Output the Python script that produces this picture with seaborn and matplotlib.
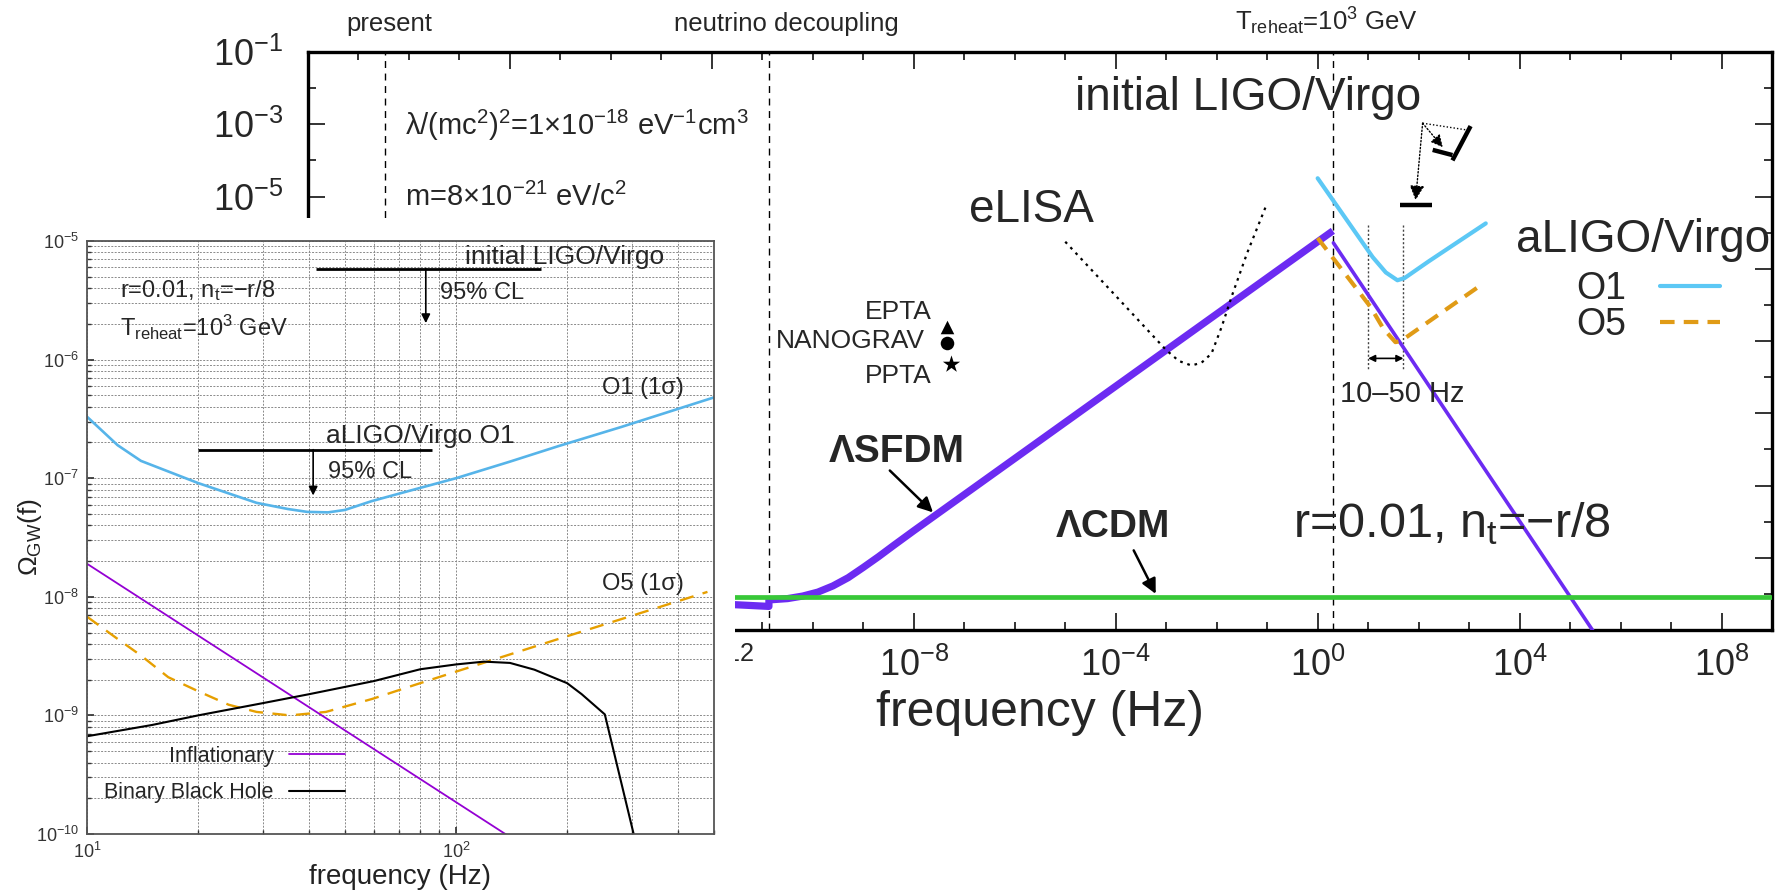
import matplotlib
matplotlib.use("Agg")
import matplotlib.pyplot as plt
import seaborn as sns
from matplotlib.ticker import FixedLocator, FixedFormatter, NullFormatter, LogLocator
from matplotlib.patches import Rectangle

# ---------------- main (background) panel data ----------------
sfdm_f = [1e-12, 1.35e-11, 1.35e-11, 3.16e-11, 6.3e-11, 1.26e-10, 2.5e-10, 5.0e-10, 1e-9,
          2.0e-9, 4.0e-9, 1e-8, 1e-6, 1e-4, 1e-2, 1.0, 2.0]
sfdm_omega = [5.4e-17, 4.5e-17, 6.8e-17, 7.4e-17, 8.7e-17, 1.12e-16, 1.66e-16, 2.8e-16, 5.4e-16,
              1.07e-15, 2.2e-15, 5.6e-15, 5.6e-13, 5.6e-11, 5.6e-9, 5.6e-7, 1.12e-6]
sfdm_post_f = [2.05, 3.2e5]
sfdm_post_omega = [5.2e-7, 7.4e-18]
lcdm_f = [1e-20, 1e9]
lcdm_omega = [8.0e-17, 8.0e-17]
o1_big_f = [1.0, 12.3, 22.4, 38.0, 52.5, 158, 631, 2138]
o1_big_omega = [3.2e-5, 2.1e-7, 7.9e-8, 4.8e-8, 5.5e-8, 1.6e-7, 5.8e-7, 1.8e-6]
o5_big_f = [1.0, 11.2, 20, 34.7, 44.7, 251, 1700]
o5_big_omega = [7.1e-7, 8.7e-9, 2.2e-9, 9.3e-10, 1.0e-9, 5.4e-9, 3.5e-8]
elisa_f = [1e-5, 3.16e-5, 1e-4, 3.16e-4, 1e-3, 1.78e-3, 3.16e-3, 5.0e-3, 7.9e-3, 1.26e-2, 2.0e-2, 4.0e-2, 9.3e-2]
elisa_omega = [5.6e-7, 1e-7, 1.78e-8, 3.16e-9, 5.6e-10, 2.8e-10, 2.1e-10, 2.5e-10, 4.5e-10, 2.5e-9, 1.78e-8, 2.7e-7, 5.1e-6]
pta_names = ["EPTA", "NANOGRAV", "PPTA"]
pta_f = [4.6e-8, 4.5e-8, 5.5e-8]
pta_omega = [2.4e-9, 8.7e-10, 2.3e-10]
pta_markers = ["^", "o", "*"]
pta_text_f = [2.3e-8, 1.65e-8, 2.3e-8]
pta_text_omega = [6.3e-9, 1.0e-9, 1.06e-10]
event_names = ["present", "neutrino decoupling", "T$_{\\rm reheat}$=10$^3$ GeV"]
event_f = [3.4e-19, 1.35e-11, 2.0]
event_label_f = [4.0e-19, 3.0e-11, 1.5]
band_f = [10, 50]
band_omega = [1.6e-6, 1.55e-10]
band_arrow_omega = 3.3e-10
ilv_big_bar_f = [43.6, 182]
ilv_big_bar_omega = [5.8e-6, 5.8e-6]
big_xticks = [1e-20, 1e-16, 1e-12, 1e-8, 1e-4, 1e0, 1e4, 1e8]
big_xticklabels = ["", "", "$\\mathdefault{10^{-12}}$", "$\\mathdefault{10^{-8}}$",
                   "$\\mathdefault{10^{-4}}$", "$\\mathdefault{10^{0}}$",
                   "$\\mathdefault{10^{4}}$", "$\\mathdefault{10^{8}}$"]
big_xminor = [10.0 ** k for k in range(-20, 10)]
big_yticks = [1e-17, 1e-15, 1e-13, 1e-11, 1e-9, 1e-7, 1e-5, 1e-3, 1e-1]
big_yticklabels = ["", "", "", "", "", "", "$\\mathdefault{10^{-5}}$",
                   "$\\mathdefault{10^{-3}}$", "$\\mathdefault{10^{-1}}$"]
big_yminor = [1e-16, 1e-14, 1e-12, 1e-10, 1e-8, 1e-6, 1e-4, 1e-2]

# ---------------- inset panel data ----------------
inset_f_o1 = [10, 12.1, 14, 20, 28.8, 35, 39.5, 45, 50, 59, 75, 100, 140, 189, 280, 500]
inset_o1 = [3.3e-7, 1.9e-7, 1.4e-7, 9.1e-8, 6.2e-8, 5.5e-8, 5.2e-8, 5.15e-8, 5.4e-8, 6.4e-8,
            7.85e-8, 1.0e-7, 1.38e-7, 1.86e-7, 2.7e-7, 4.8e-7]
inset_f_o5 = [10, 12, 14, 16.6, 20, 24.2, 28.8, 35.5, 44.4, 59.4, 77, 100, 189, 480]
inset_o5 = [6.8e-9, 4.5e-9, 3.2e-9, 2.1e-9, 1.6e-9, 1.23e-9, 1.07e-9, 1.0e-9, 1.07e-9, 1.38e-9,
            1.8e-9, 2.34e-9, 4.4e-9, 1.1e-8]
inset_f_infl = [10, 500]
inset_infl = [1.9e-8, 7.3e-12]
inset_f_bbh = [10, 15, 20, 30, 40, 60, 80, 100, 119, 140, 163, 200, 219, 253, 310]
inset_bbh = [6.67e-10, 8.3e-10, 1.0e-9, 1.27e-9, 1.51e-9, 1.95e-9, 2.45e-9, 2.69e-9, 2.84e-9,
             2.77e-9, 2.43e-9, 1.87e-9, 1.51e-9, 1.02e-9, 7.4e-11]
ilv_f = [41.7, 170]
ilv_omega = [5.86e-6, 5.86e-6]
ilv_arrow_f = 82.8
ilv_arrow_to = 2.03e-6
o1lim_f = [20.0, 86.1]
o1lim_omega = [1.74e-7, 1.74e-7]
o1lim_arrow_f = 41.0
o1lim_arrow_to = 7.15e-8

# ---------------- style ----------------
sns.set_theme(style="ticks")
plt.rcParams.update({
    "font.family": ["Liberation Sans", "DejaVu Sans"],
    "mathtext.fontset": "custom",
    "mathtext.rm": "Liberation Sans",
    "mathtext.it": "Liberation Sans:italic",
    "mathtext.bf": "Liberation Sans:bold",
    "mathtext.sf": "Liberation Sans",
    "mathtext.default": "regular",
    "axes.unicode_minus": True,
})

W, H = 1781, 896
fig = plt.figure(figsize=(W / 100, H / 100), dpi=100)
fig.patch.set_facecolor("white")

# ================= main panel =================
ax = fig.add_axes([308 / W, 1 - 630 / H, (1772 - 308) / W, (630 - 52) / H])
ax.set_xscale("log")
ax.set_yscale("log")
ax.set_xlim(1e-20, 1e9)
ax.set_ylim(1e-17, 1e-1)
ax.set_facecolor("white")

C_SFDM = "#6c2bf2"
C_O1B = "#5cc8f5"
C_O5B = "#e09b16"
C_LCDM = "#38c838"

sns.lineplot(x=sfdm_f, y=sfdm_omega, ax=ax, color=C_SFDM, lw=5.2, estimator=None, sort=False,
             legend=False, solid_capstyle="butt", zorder=3)
sns.lineplot(x=sfdm_post_f, y=sfdm_post_omega, ax=ax, color=C_SFDM, lw=2.6, estimator=None,
             sort=False, legend=False, zorder=3)
sns.lineplot(x=lcdm_f, y=lcdm_omega, ax=ax, color=C_LCDM, lw=3.4, estimator=None, sort=False,
             legend=False, zorder=4)
sns.lineplot(x=o1_big_f, y=o1_big_omega, ax=ax, color=C_O1B, lw=3.0, estimator=None, sort=False,
             legend=False, zorder=3)
line_o1_big = ax.lines[-1]
sns.lineplot(x=o5_big_f, y=o5_big_omega, ax=ax, color=C_O5B, lw=3.0, estimator=None, sort=False,
             legend=False, linestyle=(0, (3.5, 2.2)), zorder=3)
line_o5_big = ax.lines[-1]
sns.lineplot(x=elisa_f, y=elisa_omega, ax=ax, color="black", lw=1.6, estimator=None, sort=False,
             legend=False, linestyle=(0, (1.2, 2.2)), zorder=3)

for fx, oy, mk in zip(pta_f, pta_omega, pta_markers):
    ax.scatter([fx], [oy], marker=mk, s=170 if mk == "*" else 95, color="black", zorder=5,
               linewidths=0)
for name, tf, to in zip(pta_names, pta_text_f, pta_text_omega):
    ax.text(tf, to, name, ha="right", va="center", fontsize=19)

for fx in event_f:
    ax.axvline(fx, color="black", lw=1.0, ls=(0, (5, 4)), zorder=2)
for name, lf in zip(event_names, event_label_f):
    ax.text(lf, 1.037, name, transform=ax.get_xaxis_transform(), ha="center", va="baseline",
            fontsize=18.5)

for fx in band_f:
    ax.plot([fx, fx], band_omega, color="#444444", lw=1.0, ls=(0, (1.5, 1.5)), zorder=2)
ax.annotate("", xy=(band_f[0], band_arrow_omega), xytext=(band_f[1], band_arrow_omega),
            arrowprops=dict(arrowstyle="<|-|>", lw=1.2, color="black", mutation_scale=10,
                            shrinkA=0, shrinkB=0))
ax.text(48, 3.5e-11, "10–50 Hz", ha="center", va="center", fontsize=21)

# initial LIGO/Virgo upper limit marker
ax.plot(ilv_big_bar_f, ilv_big_bar_omega, color="black", lw=3.2, solid_capstyle="butt", zorder=5)
ax.annotate("", xy=(87, 7.9e-6), xytext=(120, 1.07e-3),
            arrowprops=dict(arrowstyle="-|>", lw=1.0, ls=(0, (1, 1.5)), color="black",
                            mutation_scale=22, shrinkA=0, shrinkB=0))
ax.annotate("", xy=(302, 2.3e-4), xytext=(120, 1.07e-3),
            arrowprops=dict(arrowstyle="-|>", lw=1.0, ls=(0, (1, 1.5)), color="black",
                            mutation_scale=18, shrinkA=0, shrinkB=0))
ax.plot([120, 933], [1.07e-3, 6.9e-4], color="black", lw=1.0, ls=(0, (1, 1.5)))
ax.plot([1070, 468], [8.9e-4, 1.0e-4], color="black", lw=3.2, solid_capstyle="butt")
ax.plot([190, 468], [1.95e-4, 1.4e-4], color="black", lw=3.2, solid_capstyle="butt")

# texts of the main panel
ax.text(8.3e-19, 9.5e-4, "λ/(mc$^2$)$^2$=1×10$^{-18}$ eV$^{-1}$cm$^3$", ha="left", va="center",
        fontsize=21)
ax.text(8.3e-19, 9.5e-6, "m=8×10$^{-21}$ eV/c$^2$", ha="left", va="center", fontsize=21)
ax.text(0.041, 5.4e-3, "initial LIGO/Virgo", ha="center", va="center", fontsize=33)
ax.text(2.1e-6, 4.2e-6, "eLISA", ha="center", va="center", fontsize=33)
ax.text(8300, 6.2e-7, "aLIGO/Virgo", ha="left", va="center", fontsize=33)
ax.text(4.6e-9, 8.3e-13, "ΛSFDM", ha="center", va="center", fontsize=28, fontweight="bold")
ax.annotate("", xy=(2.4e-8, 1.8e-14), xytext=(3.35e-9, 2.6e-13),
            arrowprops=dict(arrowstyle="-|>", lw=1.8, color="black", mutation_scale=22,
                            shrinkA=0, shrinkB=0))
ax.text(8.7e-5, 6.9e-15, "ΛCDM", ha="center", va="center", fontsize=28, fontweight="bold")
ax.annotate("", xy=(6.2e-4, 1.0e-16), xytext=(2.27e-4, 1.6e-15),
            arrowprops=dict(arrowstyle="-|>", lw=1.8, color="black", mutation_scale=22,
                            shrinkA=0, shrinkB=0))
ax.text(0.33, 8.9e-15, "r=0.01, n$_{\\rm t}$=−r/8", ha="left", va="center", fontsize=35)

ax.legend([line_o1_big, line_o5_big], ["O1", "O5"], loc="center right",
          bbox_to_anchor=(1754 / W, 1 - 307 / H), bbox_transform=fig.transFigure,
          frameon=False, markerfirst=False, fontsize=27, handlelength=1.6,
          handletextpad=0.9, labelspacing=0.0, borderpad=0.4)

ax.xaxis.set_major_locator(FixedLocator(big_xticks))
ax.xaxis.set_major_formatter(FixedFormatter(big_xticklabels))
ax.xaxis.set_minor_locator(FixedLocator(big_xminor))
ax.xaxis.set_minor_formatter(NullFormatter())
ax.yaxis.set_major_locator(FixedLocator(big_yticks))
ax.yaxis.set_major_formatter(FixedFormatter(big_yticklabels))
ax.yaxis.set_minor_locator(FixedLocator(big_yminor))
ax.yaxis.set_minor_formatter(NullFormatter())
ax.tick_params(which="both", direction="in", top=True, right=True, color="#333333", width=1.4)
ax.tick_params(which="major", length=12, labelsize=26)
ax.tick_params(axis="x", which="major", pad=13)
ax.tick_params(axis="y", which="major", pad=18)
ax.tick_params(which="minor", length=6)
for sp in ax.spines.values():
    sp.set_linewidth(2.4)
    sp.set_color("black")
ax.set_xlabel("frequency (Hz)", fontsize=36, labelpad=4)

# ================= white box + inset =================
box = Rectangle((0, 0), 735 / W, 1 - 218 / H, transform=fig.transFigure, facecolor="white",
                edgecolor="none", zorder=5)
fig.add_artist(box)

axi = fig.add_axes([87 / W, 1 - 834 / H, (714 - 87) / W, (834 - 241) / H], zorder=10)
axi.set_xscale("log")
axi.set_yscale("log")
axi.set_xlim(10, 500)
axi.set_ylim(1e-10, 1e-5)
axi.set_facecolor("white")
axi.yaxis.set_major_locator(LogLocator(base=10, numticks=20))
axi.yaxis.set_minor_locator(LogLocator(base=10, subs=range(2, 10), numticks=20))
axi.xaxis.set_minor_locator(LogLocator(base=10, subs=range(2, 10), numticks=20))
axi.xaxis.set_minor_formatter(NullFormatter())
axi.yaxis.set_minor_formatter(NullFormatter())
axi.grid(which="both", color="#8a8a8a", ls=(0, (2, 1.5)), lw=0.7)
axi.set_axisbelow(True)
axi.tick_params(which="both", direction="in", colors="#333333", labelcolor="#333333")
axi.tick_params(which="major", length=5, labelsize=13, pad=6)
axi.tick_params(which="minor", length=3)
for sp in axi.spines.values():
    sp.set_linewidth(1.3)
    sp.set_color("#555555")

sns.lineplot(x=inset_f_o1, y=inset_o1, ax=axi, color="#56b4e9", lw=1.9, estimator=None,
             sort=False, legend=False)
sns.lineplot(x=inset_f_o5, y=inset_o5, ax=axi, color="#e69f00", lw=1.7, estimator=None,
             sort=False, legend=False, linestyle=(0, (6, 4)))
sns.lineplot(x=inset_f_infl, y=inset_infl, ax=axi, color="#9400d3", lw=1.3, estimator=None,
             sort=False, legend=False)
line_infl = axi.lines[-1]
sns.lineplot(x=inset_f_bbh, y=inset_bbh, ax=axi, color="black", lw=1.5, estimator=None,
             sort=False, legend=False)
line_bbh = axi.lines[-1]

axi.plot(ilv_f, ilv_omega, color="black", lw=2.0, solid_capstyle="butt")
axi.annotate("", xy=(ilv_arrow_f, ilv_arrow_to), xytext=(ilv_arrow_f, ilv_omega[0]),
             arrowprops=dict(arrowstyle="-|>", lw=1.2, color="black", mutation_scale=13,
                             shrinkA=0, shrinkB=0))
axi.plot(o1lim_f, o1lim_omega, color="black", lw=2.0, solid_capstyle="butt")
axi.annotate("", xy=(o1lim_arrow_f, o1lim_arrow_to), xytext=(o1lim_arrow_f, o1lim_omega[0]),
             arrowprops=dict(arrowstyle="-|>", lw=1.2, color="black", mutation_scale=13,
                             shrinkA=0, shrinkB=0))

axi.text(106, 7.4e-6, "initial LIGO/Virgo", ha="left", va="center", fontsize=19)
axi.text(90.4, 3.65e-6, "95% CL", ha="left", va="center", fontsize=17)
axi.text(12.25, 3.8e-6, "r=0.01, n$_{\\rm t}$=−r/8", ha="left", va="center", fontsize=17)
axi.text(12.25, 1.86e-6, "T$_{\\rm reheat}$=10$^3$ GeV", ha="left", va="center", fontsize=17)
axi.text(249, 5.8e-7, "O1 (1σ)", ha="left", va="center", fontsize=17)
axi.text(44.5, 2.25e-7, "aLIGO/Virgo O1", ha="left", va="center", fontsize=19)
axi.text(45.1, 1.13e-7, "95% CL", ha="left", va="center", fontsize=17)
axi.text(249, 1.27e-8, "O5 (1σ)", ha="left", va="center", fontsize=17)

axi.legend([line_infl, line_bbh], ["Inflationary", "Binary Black Hole"], loc="center right",
           bbox_to_anchor=(364 / W, 1 - 774.5 / H), bbox_transform=fig.transFigure,
           frameon=False, markerfirst=False, fontsize=15.5, handlelength=2.6, handletextpad=0.7,
           labelspacing=0.7, borderpad=0.4)

axi.set_xlabel("frequency (Hz)", fontsize=20, labelpad=1, color="#222222")
axi.set_ylabel("Ω$_{\\rm GW}$(f)", fontsize=19, color="#222222")
axi.yaxis.set_label_coords(-0.068, 0.5)

fig.savefig("out.png", dpi=100, facecolor="white")
